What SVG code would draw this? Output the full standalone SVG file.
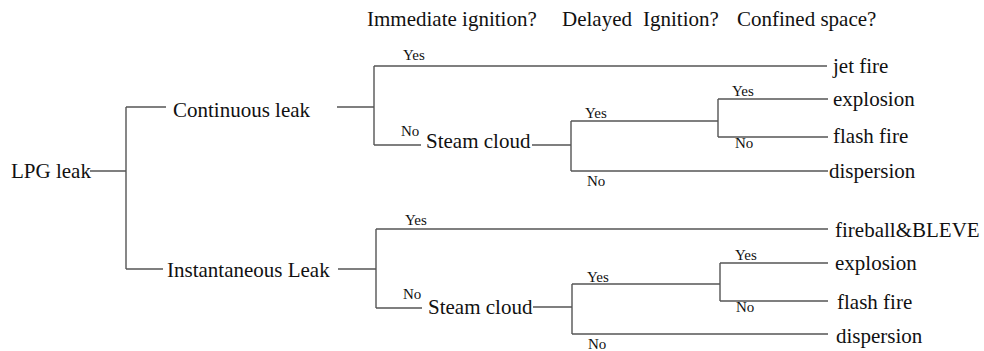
<svg xmlns="http://www.w3.org/2000/svg" width="984" height="351" viewBox="0 0 984 351">
<style>
.t{font-size:21px;fill:#111}
.s{font-size:15px;fill:#111}
.c{fill:none;stroke:#555;stroke-width:1.4}
</style>
<rect width="984" height="351" fill="#fff"/>
<g font-family="'Liberation Serif', 'Times New Roman', Times, 'DejaVu Serif', serif">
<g id="headers">
<text class="t" x="367" y="26">Immediate ignition?</text>
<text class="t" x="562" y="26">Delayed</text>
<text class="t" x="643" y="26">Ignition?</text>
<text class="t" x="737" y="26">Confined space?</text>
</g>
<g id="connectors">
<path class="c" d="M90 171H126M126 107V269M126 107H166M126 269H163"/>
<path class="c" d="M337 107H374M374 66V145M374 66H827M374 145H421M532 145H571M571 121V171M571 121H718M718 99V137M718 99H828M718 137H828M571 171H828"/>
<path class="c" d="M338 269H376M376 229V308M376 229H828M376 308H422M533 307H572M572 284V334M572 284H720M720 263V301M720 263H828M720 301H828M572 334H828"/>
</g>
<g id="labels">
<text class="s" x="403" y="60">Yes</text>
<text class="s" x="401" y="136">No</text>
<text class="s" x="585" y="118">Yes</text>
<text class="s" x="587" y="186">No</text>
<text class="s" x="732" y="96">Yes</text>
<text class="s" x="735" y="148">No</text>
<text class="s" x="405" y="225">Yes</text>
<text class="s" x="403" y="299">No</text>
<text class="s" x="587" y="282">Yes</text>
<text class="s" x="588" y="349">No</text>
<text class="s" x="735" y="260">Yes</text>
<text class="s" x="736" y="312">No</text>
</g>
<g id="lpg-leak"><text class="t" x="11" y="178">LPG leak</text></g>
<g id="continuous-leak"><text class="t" x="173" y="117">Continuous leak</text></g>
<g id="instantaneous-leak"><text class="t" x="167" y="277">Instantaneous Leak</text></g>
<g id="steam-cloud-1"><text class="t" x="426" y="148">Steam cloud</text></g>
<g id="steam-cloud-2"><text class="t" x="428" y="314">Steam cloud</text></g>
<g id="jet-fire"><text class="t" x="833" y="73">jet fire</text></g>
<g id="explosion-1"><text class="t" x="833" y="106">explosion</text></g>
<g id="flash-fire-1"><text class="t" x="833" y="143">flash fire</text></g>
<g id="dispersion-1"><text class="t" x="829" y="178">dispersion</text></g>
<g id="fireball-bleve"><text class="t" x="835" y="237">fireball&amp;BLEVE</text></g>
<g id="explosion-2"><text class="t" x="835" y="270">explosion</text></g>
<g id="flash-fire-2"><text class="t" x="837" y="309">flash fire</text></g>
<g id="dispersion-2"><text class="t" x="836" y="343">dispersion</text></g>
</g>
</svg>
